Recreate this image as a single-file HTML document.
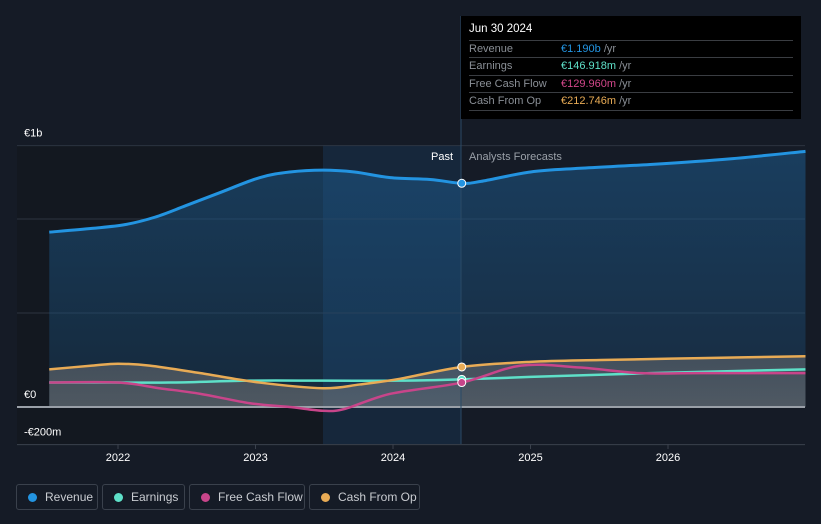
<!DOCTYPE html>
<html><head><meta charset="utf-8"><style>
body{margin:0;background:#151b26;font-family:"Liberation Sans",sans-serif;}
#wrap{position:relative;width:821px;height:524px;overflow:hidden;background:#151b26}
svg{position:absolute;left:0;top:0}
.leg{position:absolute;top:484px;height:26px;border:1px solid #3a414c;border-radius:3px;box-sizing:border-box;color:#c9ccd1;font-size:12px;line-height:24px;padding-left:28px}
.leg i{position:absolute;left:11px;top:8px;width:9px;height:9px;border-radius:50%}
#tip{position:absolute;left:461px;top:16px;width:340px;height:103px;background:#000;font-size:11px;color:#8a8f96}
#tip .r{position:absolute;left:8px;width:324px;border-top:1px solid #3a3d42;height:17px;line-height:17px}
#tip .r span{position:absolute;left:92px}
</style></head><body>
<div id="wrap">
<svg id="svg" width="821" height="524"></svg>
<div id="tip">
<div style="position:absolute;left:8px;top:7px;color:#fff;font-size:11.5px">Jun 30 2024</div>
<div class="r" style="top:24px">Revenue<span><b style="font-weight:normal;color:#2394e1">€1.190b</b> /yr</span></div>
<div class="r" style="top:41px">Earnings<span><b style="font-weight:normal;color:#5ee0c8">€146.918m</b> /yr</span></div>
<div class="r" style="top:59px">Free Cash Flow<span><b style="font-weight:normal;color:#d2478a">€129.960m</b> /yr</span></div>
<div class="r" style="top:76px;border-bottom:1px solid #3a3d42">Cash From Op<span><b style="font-weight:normal;color:#e8ab55">€212.746m</b> /yr</span></div>
</div>
<div class="leg" style="left:16px;width:82px"><i style="background:#2394e1"></i>Revenue</div>
<div class="leg" style="left:102px;width:83px"><i style="background:#5ee0c8"></i>Earnings</div>
<div class="leg" style="left:189px;width:116px"><i style="background:#c8458a"></i>Free Cash Flow</div>
<div class="leg" style="left:309px;width:111px"><i style="background:#e8ab55"></i>Cash From Op</div>
</div>
<script>
const revYears=[2021.5,2021.81,2022.05,2022.27,2022.49,2022.74,2023.03,2023.25,2023.49,2023.72,2023.98,2024.27,2024.5,2024.64,2025.0,2025.36,2025.87,2026.45,2027.0];
const revenue=[0.93,0.95,0.97,1.01,1.07,1.14,1.22,1.25,1.26,1.25,1.22,1.21,1.19,1.20,1.25,1.27,1.29,1.32,1.36];
const cfoYears=[2021.5,2021.81,2022.0,2022.23,2022.6,2023.03,2023.49,2023.76,2024.05,2024.5,2025.0,2025.51,2026.24,2027.0];
const cashFromOp=[0.20,0.22,0.23,0.22,0.18,0.13,0.10,0.12,0.15,0.213,0.24,0.25,0.26,0.27];
const earnYears=[2021.5,2022.0,2022.38,2022.96,2023.49,2024.05,2024.5,2025.0,2025.87,2027.0];
const earnings=[0.13,0.13,0.13,0.14,0.14,0.14,0.147,0.16,0.18,0.20];
const fcfYears=[2021.5,2022.0,2022.3,2022.6,2022.96,2023.25,2023.49,2023.65,2023.98,2024.5,2024.93,2025.36,2025.8,2026.24,2027.0];
const fcf=[0.13,0.13,0.10,0.07,0.02,0.0,-0.02,-0.01,0.07,0.13,0.22,0.21,0.18,0.18,0.18];
const xTicks=[2022,2023,2024,2025,2026];
const yLabels=[{v:1.39,t:"€1b"},{v:0,t:"€0"},{v:-0.2,t:"-€200m"}];
const gridVals=[1.39,1.0,0.5];
const X=y=>118+(y-2022)*137.5, Y=v=>407-v*188;
const NS="http://www.w3.org/2000/svg", svg=document.getElementById('svg');
function el(t,a,p){const e=document.createElementNS(NS,t);for(const k in a)e.setAttribute(k,a[k]);(p||svg).appendChild(e);return e;}
function path(xs,vs){const p=xs.map((x,i)=>[X(x),Y(vs[i])]);let d="M"+p[0][0]+","+p[0][1];
for(let i=0;i<p.length-1;i++){const p0=p[i-1]||p[i],p1=p[i],p2=p[i+1],p3=p[i+2]||p2;
d+=` C${p1[0]+(p2[0]-p0[0])/6},${p1[1]+(p2[1]-p0[1])/6} ${p2[0]-(p3[0]-p1[0])/6},${p2[1]-(p3[1]-p1[1])/6} ${p2[0]},${p2[1]}`;}return d;}
const defs=el('defs',{});
const g1=el('linearGradient',{id:'rg',x1:0,y1:0,x2:0,y2:1},defs);
el('stop',{offset:0,'stop-color':'#1d5a8c','stop-opacity':0.55},g1);el('stop',{offset:1,'stop-color':'#1d5a8c','stop-opacity':0.25},g1);
const g2=el('linearGradient',{id:'gg',x1:0,y1:0,x2:0,y2:1},defs);
el('stop',{offset:0,'stop-color':'#777','stop-opacity':0.45},g2);el('stop',{offset:1,'stop-color':'#888','stop-opacity':0.5},g2);
// backgrounds
let r=el('rect',{x:17,y:145,width:306,height:299,fill:'#131820'});
r=el('rect',{x:323,y:145,width:138,height:299,fill:'#17324c','fill-opacity':0.55});
// grid
gridVals.forEach(v=>{const l=el('line',{x1:17,x2:805,y1:Y(v),y2:Y(v),stroke:'#2c3440'});});
let l=el('line',{x1:17,x2:805,y1:Y(-0.2),y2:Y(-0.2),stroke:'#3a414c'});
// fills
const x0=X(revYears[0]),x1=X(revYears[revYears.length-1]);
let f=el('path',{d:path(revYears,revenue)+` L${x1},${Y(0)} L${x0},${Y(0)} Z`,fill:'url(#rg)'});
f=el('path',{d:path(cfoYears,cashFromOp)+` L${X(cfoYears[cfoYears.length-1])},${Y(0)} L${x0},${Y(0)} Z`,fill:'url(#gg)'});
l=el('line',{x1:17,x2:805,y1:Y(0),y2:Y(0),stroke:'#9aa0a8','stroke-width':2});
l=el('line',{x1:461,x2:461,y1:16,y2:444,stroke:'#2a4a66'});
// lines
const series=[[earnYears,earnings,'#5ee0c8','earnings-line'],[fcfYears,fcf,'#c8458a','free-cash-flow-line'],[cfoYears,cashFromOp,'#e8ab55','cash-from-op-line'],[revYears,revenue,'#2394e1','revenue-line']];
series.forEach(s=>{const p=el('path',{d:path(s[0],s[1]),fill:'none',stroke:s[2],'stroke-width':s[3]=='revenue-line'?3:2.5});
const i=s[0].indexOf(2024.5);const c=el('circle',{cx:X(2024.5),cy:Y(s[1][i]),r:4,fill:s[2],stroke:'#fff','stroke-width':1});});
// labels
yLabels.forEach(o=>{const t=el('text',{x:24,y:Y(o.v)-9,fill:'#fff','font-size':11});t.textContent=o.t;});
xTicks.forEach(y=>{const tk=el('line',{x1:X(y),x2:X(y),y1:444,y2:449,stroke:'#3a414c'});
const t=el('text',{x:X(y),y:461,fill:'#fff','font-size':11,'text-anchor':'middle'});t.textContent=y;});
let t=el('text',{x:453,y:160,fill:'#fff','font-size':11,'text-anchor':'end'});t.textContent='Past';
t=el('text',{x:469,y:160,fill:'#9aa0a8','font-size':11});t.textContent='Analysts Forecasts';
</script>
</body></html>
